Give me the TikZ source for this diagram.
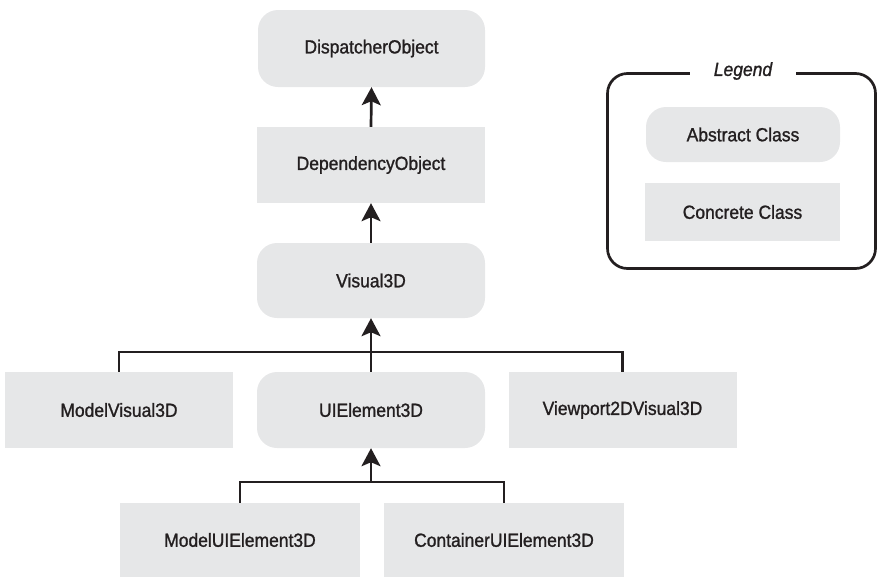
\documentclass[tikz,border=0pt]{standalone}
\usepackage{fontspec}
\setmainfont{Liberation Sans}[FakeStretch=0.92, FakeBold=1.2]
\usetikzlibrary{arrows.meta}
\definecolor{boxgray}{RGB}{230,231,232}
\definecolor{ink}{RGB}{35,31,32}
\tikzset{
  cls/.style={fill=boxgray, draw=none, inner sep=0pt, text=ink,
    font=\fontsize{19pt}{21pt}\selectfont, anchor=center},
  abstractcls/.style={cls, rounded corners=20pt},
  concretecls/.style={cls},
  conn/.style={draw=ink, line width=2.7pt, line join=miter},
  arr/.style={conn, -{Stealth[length=18pt,width=19pt,inset=4pt]}},
}
\begin{document}
\begin{tikzpicture}[x=1pt,y=-1pt]
\useasboundingbox (0,0) rectangle (877,576);
% main hierarchy
\node[abstractcls, minimum width=227pt, minimum height=77pt] (disp) at (371.5,48.5) {DispatcherObject};
\node[concretecls, minimum width=228pt, minimum height=76pt] (dep) at (371,165) {DependencyObject};
\node[abstractcls, minimum width=228pt, minimum height=75pt] (vis) at (371,280.5) {Visual3D};
\node[concretecls, minimum width=228pt, minimum height=76pt] (mv) at (119,410) {ModelVisual3D};
\node[abstractcls, minimum width=228pt, minimum height=76pt] (ui) at (371,410) {UIElement3D};
\node[concretecls, minimum width=228pt, minimum height=76pt] (vp) at (622.5,410) {Viewport2DVisual3D};
\node[concretecls, minimum width=240pt, minimum height=74pt] (mui) at (240,540) {ModelUIElement3D};
\node[concretecls, minimum width=240pt, minimum height=74pt] (cui) at (504,540) {ContainerUIElement3D};
\coordinate (j1) at (371,352);
\coordinate (j2) at (371,482);
% connectors
\draw[arr] (dep.north) -- (disp.south);
\draw[arr] (vis.north) -- (dep.south);
\draw[conn] (mv.north) |- (j1) -| (vp.north);
\draw[arr] (ui.north) -- (vis.south);
\draw[conn] (mui.north) |- (j2) -| (cui.north);
\draw[arr] (j2) -- (ui.south);
% legend
\coordinate (lgA) at (607.5,73.5);
\coordinate (lgB) at (875.5,268.5);
\draw[draw=ink, line width=2.7pt, rounded corners=20pt] (lgA) rectangle (lgB);
\node[fill=white, inner xsep=23.5pt, inner ysep=2pt, text=ink,
  font=\fontsize{19pt}{21pt}\selectfont\itshape] (lgt) at (743,71) {Legend};
\node[abstractcls, minimum width=194pt, minimum height=55pt] (abs) at (743,134.5) {Abstract Class};
\node[concretecls, minimum width=195pt, minimum height=58pt] (con) at (742.5,212) {Concrete Class};
\end{tikzpicture}
\end{document}
